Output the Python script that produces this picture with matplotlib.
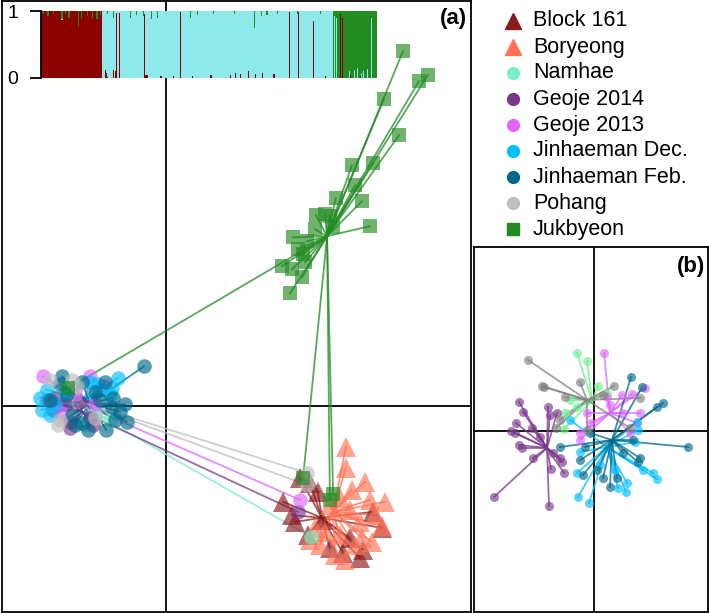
import matplotlib.pyplot as plt
from matplotlib.lines import Line2D

plt.rcParams['font.family'] = ['Liberation Sans', 'DejaVu Sans']

# populations (legend order)
pops = ['Block 161', 'Boryeong', 'Namhae', 'Geoje 2014', 'Geoje 2013',
        'Jinhaeman Dec.', 'Jinhaeman Feb.', 'Pohang', 'Jukbyeon']
colors_a = ['#8B1A1A', '#FF7256', '#76EEC6', '#7A378B', '#E066FF',
            '#00BFFF', '#00688B', '#BEBEBE', '#228B22']
colors_b = ['#8B1A1A', '#FF7256', '#6EF08C', '#7A378B', '#E066FF',
            '#00BFFF', '#00688B', '#808080', '#228B22']
markers = ['^', '^', 'o', 'o', 'o', 'o', 'o', 'o', 's']

# ---- panel (a): all populations, centroids and individual scores ----
cent_a = {
    'Block 161': (3.90, -2.80),
    'Boryeong': (4.18, -2.65),
    'Namhae': (-1.95, -0.10),
    'Geoje 2014': (-2.10, -0.15),
    'Geoje 2013': (-2.03, 0.00),
    'Jinhaeman Dec.': (-2.05, 0.15),
    'Jinhaeman Feb.': (-1.90, 0.05),
    'Pohang': (-2.08, 0.08),
    'Jukbyeon': (4.03, 4.23),
}
block161_x = [2.93, 3.15, 3.55, 3.60, 5.18, 5.40, 4.43, 4.93, 4.60, 3.35, 3.80, 4.10, 3.23, 4.85, 3.90]
block161_y = [-2.40, -2.73, -3.23, -1.93, -2.65, -3.05, -3.68, -3.60, -3.30, -1.80, -2.15, -3.55, -2.90, -3.80, -2.85]
boryeong_x = [4.50, 4.50, 4.98, 4.65, 5.10, 5.48, 5.23, 4.85, 5.40, 4.35, 4.73, 3.85, 4.23, 4.60, 4.10,
              3.73, 4.35, 4.90, 5.15, 3.98, 3.60, 4.48]
boryeong_y = [-1.03, -1.55, -1.90, -2.10, -2.35, -2.40, -2.73, -2.90, -3.00, -3.23, -3.48, -3.48, -3.73,
              -2.60, -2.48, -3.05, -2.30, -3.30, -3.40, -3.15, -3.35, -3.85]
namhae_x = [3.63, -1.78, -1.40, -2.28, -2.03]
namhae_y = [-3.28, -0.23, -0.35, 0.15, -0.48]
geoje14_x = [-2.98, -2.40, -1.83, -2.83, 3.30, -2.15, -2.53, -2.40, -1.90, -2.78]
geoje14_y = [0.15, -0.40, -0.48, -0.10, -2.65, 0.10, 0.03, -0.55, -0.30, 0.20]
geoje13_x = [-3.08, -1.90, -1.58, -2.65, 3.35, -2.28, -1.78]
geoje13_y = [0.73, 0.73, 0.48, -0.15, -2.35, 0.28, 0.03]
jdec_x = [-1.20, -2.98, -3.10, -1.73, -1.65, -1.90, -1.40, -2.78, -3.15, -1.35, -2.53, -2.90]
jdec_y = [0.70, 0.40, -0.10, 0.53, 0.40, 0.58, 0.28, 0.03, 0.20, 0.45, 0.35, -0.23]
jfeb_x = [-0.55, -2.60, -2.10, -1.33, -1.35, -0.98, -1.50, -2.10, -2.90, -2.48, -1.78, -1.15, -2.35,
          -2.65, -1.65, -1.28, -1.95, -1.03, -2.28, -1.53]
jfeb_y = [0.98, 0.73, 0.60, 0.20, -0.03, -0.40, -0.60, -0.43, 0.15, 0.28, 0.35, -0.15, -0.23,
          0.53, 0.15, -0.35, -0.60, 0.03, -0.48, 0.60]
pohang_x = [-2.35, -2.65, -2.23, 3.53, 3.53, -1.78, -2.90, -2.70]
pohang_y = [0.63, -0.35, 0.48, -1.68, -1.98, -0.30, 0.65, -0.48]
jukb_x = [5.93, 6.55, 6.33, 5.45, 5.83, 4.65, 5.18, 4.73, 4.25, 4.90, 5.10, 3.75, 3.98, 4.10, 4.18,
          3.73, 3.18, 3.53, 3.30, 3.43, 2.90, 3.15, 3.48, 3.40, 3.10, -2.45, 3.43, 4.10, 4.18]
jukb_y = [8.85, 8.25, 8.10, 7.65, 6.75, 6.00, 6.05, 5.50, 5.18, 5.10, 4.48, 4.75, 4.78, 4.73, 4.45,
          4.40, 4.20, 4.10, 3.90, 3.78, 3.48, 3.40, 3.58, 3.20, 2.80, 0.43, -1.80, -2.35, -2.20]
pts_a = {
    'Block 161': (block161_x, block161_y),
    'Boryeong': (boryeong_x, boryeong_y),
    'Namhae': (namhae_x, namhae_y),
    'Geoje 2014': (geoje14_x, geoje14_y),
    'Geoje 2013': (geoje13_x, geoje13_y),
    'Jinhaeman Dec.': (jdec_x, jdec_y),
    'Jinhaeman Feb.': (jfeb_x, jfeb_y),
    'Pohang': (pohang_x, pohang_y),
    'Jukbyeon': (jukb_x, jukb_y),
}

# ---- panel (b): populations without Block 161 / Boryeong / Jukbyeon ----
cent_b = {
    'Namhae': (-0.10, 1.50),
    'Geoje 2014': (-2.35, -0.85),
    'Geoje 2013': (0.80, 0.90),
    'Jinhaeman Dec.': (0.65, -0.80),
    'Jinhaeman Feb.': (0.90, -0.45),
    'Pohang': (-0.35, 1.55),
}
b_geoje14_x = [-3.75, -3.55, -3.90, -4.15, -3.95, -3.10, -2.30, -2.20, -1.85, -3.75, -3.60, -3.05, -2.15,
               -1.50, -1.70, -1.60, -5.00, -2.25, -2.70, -2.05]
b_geoje14_y = [1.45, 0.95, 0.40, 0.00, -0.10, 0.15, 1.20, 0.80, 0.90, -0.70, -0.85, -1.35, -1.90,
               -2.10, -1.35, -1.55, -3.30, -3.75, -0.30, -1.10]
b_geoje13_x = [0.50, 2.55, 1.90, 1.40, 2.30, 2.15, -0.70, -0.70, -0.20, 1.45, 0.80, 0.65, 1.80, -0.35]
b_geoje13_y = [3.90, 2.15, 1.85, 1.80, 0.90, 0.40, -0.45, -0.10, 0.40, 0.90, 1.30, 1.70, -0.10, 0.90]
b_pohang_x = [-3.30, -2.60, -2.50, -0.70, 1.00, 0.45, -1.45, -1.70, -1.90, 2.30, 1.80, -0.35]
b_pohang_y = [3.55, 2.25, 2.20, 2.45, 2.25, 1.80, 1.70, 0.55, 0.15, 1.65, 0.15, 0.05]
b_namhae_x = [-0.85, -0.35, 0.20, -1.45, -1.50, -1.20, 0.65, -0.85]
b_namhae_y = [3.90, 3.50, 2.25, 0.90, 0.10, 1.55, 1.90, 1.20]
b_jfeb_x = [1.85, 2.40, 3.45, 3.15, 4.70, -1.70, -0.45, 0.45, 0.80, 2.30, 2.20, -0.55, -0.70, 1.15,
            0.15, 1.45, -0.20, 1.95]
b_jfeb_y = [2.70, 2.20, 1.40, 1.20, -0.80, -0.80, -0.80, -2.35, -2.80, -1.35, -1.55, -2.20, -1.45, -2.35,
            -1.95, -1.10, -0.10, -0.45]
b_jdec_x = [-0.80, -0.25, 1.20, 1.60, 1.65, 3.15, 2.45, -0.85, -0.70, 2.20, 2.15, 2.05, -1.20, 2.95,
            0.30, 1.05]
b_jdec_y = [-3.30, -3.60, -2.85, -3.05, -2.60, -2.40, -1.95, -2.10, -1.05, 0.05, 0.45, -0.55, 0.55, -2.10,
            -1.70, -1.95]
pts_b = {
    'Namhae': (b_namhae_x, b_namhae_y),
    'Geoje 2014': (b_geoje14_x, b_geoje14_y),
    'Geoje 2013': (b_geoje13_x, b_geoje13_y),
    'Jinhaeman Dec.': (b_jdec_x, b_jdec_y),
    'Jinhaeman Feb.': (b_jfeb_x, b_jfeb_y),
    'Pohang': (b_pohang_x, b_pohang_y),
}

# ---- structure bar plot (3 clusters), run lengths + read-off exceptions ----
run_cluster = ['red', 'cyan', 'green']
run_length = [53, 198, 38]
# index: (red, cyan, green) membership
q_exceptions = {
    2: (0.95, 0, 0.05), 6: (0.92, 0, 0.08), 11: (0.95, 0, 0.05), 18: (0.86, 0.02, 0.12),
    21: (0.95, 0, 0.05), 24: (0.90, 0, 0.10), 32: (0.78, 0, 0.22), 35: (0.90, 0, 0.10),
    40: (0.92, 0, 0.08), 44: (0.90, 0, 0.10), 48: (0.88, 0, 0.12), 51: (0.94, 0, 0.06),
    55: (0.12, 0.88, 0), 56: (0.08, 0.92, 0), 57: (0.02, 0.93, 0.05), 62: (0.12, 0.78, 0.10),
    64: (0.10, 0.90, 0), 65: (0.97, 0.03, 0), 67: (0.97, 0.03, 0), 77: (0, 0.90, 0.10),
    82: (0, 0.94, 0.06), 88: (0, 0.92, 0.08), 89: (0.95, 0.05, 0), 90: (0.05, 0.95, 0),
    91: (0.04, 0.96, 0), 95: (0, 0.88, 0.12), 100: (0, 0.90, 0.10), 103: (0.03, 0.97, 0),
    114: (0.03, 0.97, 0), 120: (0.98, 0.02, 0), 128: (0, 0.90, 0.10), 130: (0.03, 0.97, 0),
    134: (0, 0.94, 0.06), 146: (0.04, 0.96, 0), 148: (0, 0.95, 0.05), 163: (0.05, 0.95, 0),
    166: (0, 0.95, 0.05), 167: (0.08, 0.92, 0), 171: (0.06, 0.94, 0), 178: (0.10, 0.90, 0),
    183: (0, 0.75, 0.25), 184: (0.06, 0.94, 0), 189: (0, 0.92, 0.08), 190: (0.07, 0.93, 0),
    194: (0, 0.94, 0.06), 200: (0.06, 0.94, 0), 203: (0, 0.95, 0.05), 213: (0.98, 0.02, 0),
    220: (0, 0.95, 0.05), 221: (0.98, 0.02, 0), 234: (0.85, 0.15, 0), 240: (0, 0.95, 0.05),
    244: (0.03, 0.97, 0), 252: (0, 0.92, 0.08), 254: (0, 0.90, 0.10), 257: (0.95, 0, 0.05),
    259: (0.90, 0, 0.10), 265: (0, 0.10, 0.90), 266: (0.04, 0, 0.96), 269: (0, 0.12, 0.88),
    272: (0, 0.15, 0.85), 274: (0.03, 0, 0.97), 275: (0, 0.07, 0.93), 277: (0, 0.10, 0.90),
    280: (0, 0.14, 0.86), 284: (0, 0.90, 0.10),
}
struct_colors = {'red': '#8B0000', 'cyan': '#8EEAEA', 'green': '#228B22'}

q_red, q_cyan, q_green = [], [], []
for cl, n in zip(run_cluster, run_length):
    for k in range(n):
        q_red.append(1.0 if cl == 'red' else 0.0)
        q_cyan.append(1.0 if cl == 'cyan' else 0.0)
        q_green.append(1.0 if cl == 'green' else 0.0)
for i, (r, c, g) in q_exceptions.items():
    q_red[i], q_cyan[i], q_green[i] = r, c, g

W, H = 709, 613
fig = plt.figure(figsize=(W / 100, H / 100), dpi=100)


def frac(x0, y0, x1, y1):
    # pixel box -> figure fraction
    return [x0 / W, 1 - y1 / H, (x1 - x0) / W, (y1 - y0) / H]


def star(ax, cents, pts, cols, ms):
    for name in pops:
        if name not in pts:
            continue
        i = pops.index(name)
        cx, cy = cents[name]
        xs, ys = pts[name]
        for x, y in zip(xs, ys):
            ax.plot([cx, x], [cy, y], color=cols[i], lw=1.3, alpha=0.75, zorder=2)
        ax.plot(xs, ys, linestyle='none', marker=markers[i], color=cols[i],
                markersize=ms[markers[i]], alpha=0.65, markeredgewidth=0, zorder=3)


# panel (a)
ax = fig.add_axes(frac(2, 1, 471, 612))
ax.set_xlim(-4.1, 7.63)
ax.set_ylim(-5.15, 10.1)
ax.axhline(0, color='black', lw=1.3, zorder=1)
ax.axvline(0, color='black', lw=1.3, zorder=1)
star(ax, cent_a, pts_a, colors_a, {'^': 14, 'o': 10.5, 's': 10.5})
ax.set_xticks([])
ax.set_yticks([])
for s in ax.spines.values():
    s.set_linewidth(1.3)
ax.text(467 / W, 1 - 8 / H, '(a)', transform=fig.transFigure, ha='right', va='top',
        fontsize=16, fontweight='bold')

# panel (b)
axb = fig.add_axes(frac(474, 247, 708, 612))
axb.set_xlim(-6.0, 5.7)
axb.set_ylim(-9.05, 9.2)
axb.axhline(0, color='black', lw=1.3, zorder=1)
axb.axvline(0, color='black', lw=1.3, zorder=1)
star(axb, cent_b, pts_b, colors_b, {'^': 8, 'o': 6.5, 's': 6.5})
axb.set_xticks([])
axb.set_yticks([])
for s in axb.spines.values():
    s.set_linewidth(1.3)
axb.text(705 / W, 1 - 256 / H, '(b)', transform=fig.transFigure, ha='right', va='top',
         fontsize=16, fontweight='bold')

# structure inset
axs = fig.add_axes(frac(40.5, 11, 377, 78))
idx = range(len(q_red))
axs.bar(idx, q_red, width=1.0, color=struct_colors['red'], linewidth=0)
axs.bar(idx, q_cyan, width=1.0, bottom=q_red, color=struct_colors['cyan'], linewidth=0)
bottom2 = [r + c for r, c in zip(q_red, q_cyan)]
axs.bar(idx, q_green, width=1.0, bottom=bottom2, color=struct_colors['green'], linewidth=0)
axs.set_xlim(-0.5, len(q_red) - 0.5)
axs.set_ylim(0, 1)
axs.set_xticks([])
axs.set_yticks([0, 1])
axs.set_yticklabels(['0', '1'], fontsize=14)
axs.tick_params(axis='y', length=8, width=1.3, pad=8)
for k in ['top', 'right', 'bottom']:
    axs.spines[k].set_visible(False)
axs.spines['left'].set_linewidth(1.3)
axs.patch.set_alpha(0)

# legend
for i, name in enumerate(pops):
    yy = 1 - (21 + 26 * i) / H
    ms = 12 if markers[i] == '^' else 8.5
    fig.add_artist(Line2D([513 / W], [yy], marker=markers[i], color=colors_a[i],
                          markersize=ms, linestyle='none', transform=fig.transFigure))
    fig.text(533 / W, yy, name, fontsize=15.5, va='center', ha='left')

fig.savefig('out.png', dpi=100)
